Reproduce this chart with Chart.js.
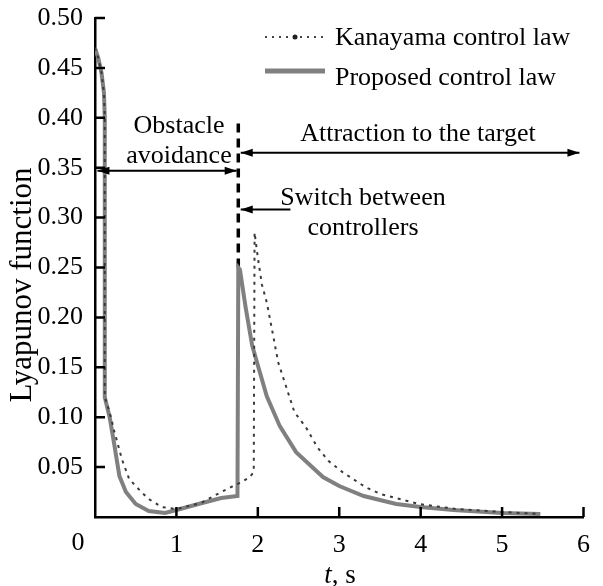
<!DOCTYPE html>
<html>
<head>
<meta charset="utf-8">
<script src="https://cdn.jsdelivr.net/npm/chart.js@4.4.1/dist/chart.umd.min.js"></script>
<style>
  html, body { margin: 0; padding: 0; background: #fff; }
  #wrap { width: 603px; height: 586px; }
</style>
</head>
<body>
<div id="wrap"><canvas id="lyap"></canvas></div>
<script>
// proposed control law (solid grey)
const tProposed = [0, 0.04, 0.08, 0.11, 0.12, 0.12, 0.15, 0.18, 0.24, 0.30, 0.38, 0.50, 0.66, 0.86, 1.0, 1.27, 1.55, 1.75, 1.76, 1.78, 1.85, 1.93, 2.0, 2.11, 2.27, 2.47, 2.8, 3.0, 3.3, 3.7, 4.0, 4.4, 5.0, 5.47];
const vProposed = [0.47, 0.46, 0.445, 0.425, 0.40, 0.12, 0.11, 0.10, 0.071, 0.041, 0.025, 0.013, 0.006, 0.004, 0.007, 0.013, 0.019, 0.021, 0.25, 0.248, 0.21, 0.172, 0.152, 0.121, 0.091, 0.065, 0.040, 0.031, 0.021, 0.013, 0.010, 0.007, 0.004, 0.003];

// Kanayama control law (dotted)
const tKanayama = [0, 0.04, 0.08, 0.11, 0.12, 0.12, 0.18, 0.24, 0.33, 0.42, 0.57, 0.66, 0.82, 1.0, 1.3, 1.55, 1.67, 1.8, 1.9, 1.95, 1.96, 2.0, 2.05, 2.11, 2.19, 2.25, 2.35, 2.45, 2.59, 2.73, 2.87, 3.04, 3.32, 3.51, 3.98, 4.44, 5.0, 5.47];
const vKanayama = [0.47, 0.46, 0.445, 0.425, 0.40, 0.12, 0.105, 0.085, 0.058, 0.038, 0.025, 0.018, 0.010, 0.008, 0.014, 0.025, 0.030, 0.035, 0.040, 0.045, 0.285, 0.26, 0.233, 0.215, 0.181, 0.155, 0.13, 0.105, 0.09, 0.07, 0.056, 0.045, 0.03, 0.023, 0.013, 0.008, 0.005, 0.003];

// switch between controllers (black dashed marker)
const tSwitch = [1.76, 1.76];
const vSwitch = [0.25, 0.395];

const xTicks = [0, 1, 2, 3, 4, 5, 6];
const yTicks = [0.05, 0.10, 0.15, 0.20, 0.25, 0.30, 0.35, 0.40, 0.45, 0.50];

const serif = '"Liberation Serif", "DejaVu Serif", serif';

function pts(ts, vs) {
  return ts.map((t, i) => ({ x: t, y: vs[i] }));
}

// inward ticks, axis titles, arrows, notes and legend
const extras = {
  id: 'extras',
  afterDraw(chart) {
    const ctx = chart.ctx;
    const xs = chart.scales.x, ys = chart.scales.y;
    const X = v => xs.getPixelForValue(v);
    const Y = v => ys.getPixelForValue(v);
    ctx.save();
    ctx.strokeStyle = '#000';
    ctx.lineWidth = 2.5;
    ctx.beginPath();
    yTicks.forEach(v => { ctx.moveTo(X(0), Y(v)); ctx.lineTo(X(0) + 10, Y(v)); });
    xTicks.slice(1).forEach(v => { ctx.moveTo(X(v), Y(0)); ctx.lineTo(X(v), Y(0) - 10); });
    ctx.stroke();

    ctx.fillStyle = '#000';
    ctx.font = '26px ' + serif;
    ctx.textAlign = 'center';
    ctx.textBaseline = 'middle';
    ctx.fillText('0', X(0) - 17, 543);

    // x title
    ctx.textBaseline = 'alphabetic';
    ctx.textAlign = 'left';
    ctx.font = 'italic 27px ' + serif;
    const wT = ctx.measureText('t').width;
    ctx.font = '27px ' + serif;
    const wR = ctx.measureText(', s').width;
    let x0 = 340 - (wT + wR) / 2;
    ctx.font = 'italic 27px ' + serif;
    ctx.fillText('t', x0, 583);
    ctx.font = '27px ' + serif;
    ctx.fillText(', s', x0 + wT, 583);

    // y title
    ctx.save();
    ctx.translate(31, 285);
    ctx.rotate(-Math.PI / 2);
    ctx.textAlign = 'center';
    ctx.font = '31px ' + serif;
    ctx.fillText('Lyapunov function', 0, 0);
    ctx.restore();

    // arrows
    function head(x, y, dir) {
      ctx.beginPath();
      ctx.moveTo(x, y);
      ctx.lineTo(x - dir * 12, y - 4);
      ctx.lineTo(x - dir * 12, y + 4);
      ctx.closePath();
      ctx.fill();
    }
    function arrow(t1, t2, v, both) {
      const a = X(t1), b = X(t2), y = Y(v);
      ctx.lineWidth = 2;
      ctx.beginPath();
      ctx.moveTo(a, y);
      ctx.lineTo(b, y);
      ctx.stroke();
      head(b, y, b > a ? 1 : -1);
      if (both) head(a, y, b > a ? -1 : 1);
    }
    arrow(0.03, 1.74, 0.347, true);
    arrow(1.79, 5.95, 0.365, true);
    arrow(2.4, 1.79, 0.308, false);

    // notes
    ctx.font = '26px ' + serif;
    ctx.textAlign = 'center';
    ctx.fillText('Obstacle', 179, 133);
    ctx.fillText('avoidance', 179, 163);
    ctx.fillText('Attraction to the target', 418, 141);
    ctx.fillText('Switch between', 363, 205);
    ctx.fillText('controllers', 363, 235);

    // legend
    ctx.textAlign = 'left';
    ctx.fillText('Kanayama control law', 335, 45);
    ctx.fillText('Proposed control law', 335, 85);
    ctx.strokeStyle = '#444';
    ctx.lineWidth = 2;
    ctx.setLineDash([2, 5]);
    ctx.beginPath();
    ctx.moveTo(265, 37);
    ctx.lineTo(325, 37);
    ctx.stroke();
    ctx.setLineDash([]);
    ctx.fillStyle = '#222';
    ctx.beginPath();
    ctx.arc(295, 37, 2.5, 0, Math.PI * 2);
    ctx.fill();
    ctx.strokeStyle = '#808080';
    ctx.lineWidth = 5;
    ctx.beginPath();
    ctx.moveTo(265, 71);
    ctx.lineTo(325, 71);
    ctx.stroke();
    ctx.restore();
  }
};

new Chart(
  document.getElementById('lyap'),
  {
    type: 'scatter',
    data: {
      datasets: [
        {
          label: 'Kanayama control law',
          data: pts(tKanayama, vKanayama),
          showLine: true,
          borderColor: '#3a3a3a',
          borderWidth: 2,
          borderDash: [3, 5],
          pointRadius: 0,
          tension: 0
        },
        {
          label: 'Proposed control law',
          data: pts(tProposed, vProposed),
          showLine: true,
          borderColor: '#808080',
          borderWidth: 4,
          pointRadius: 0,
          tension: 0
        },
        {
          label: 'switch',
          data: pts(tSwitch, vSwitch),
          showLine: true,
          borderColor: '#000',
          borderWidth: 3.5,
          borderDash: [9, 6],
          pointRadius: 0
        }
      ]
    },
    options: {
      responsive: true,
      maintainAspectRatio: false,
      animation: false,
      layout: { padding: { top: 18, right: 10, left: 0, bottom: 0 } },
      plugins: { legend: { display: false }, tooltip: { enabled: false } },
      scales: {
        x: {
          type: 'linear',
          min: 0,
          max: 6,
          afterFit: s => { s.height = 69; },
          afterBuildTicks: s => { s.ticks = xTicks.map(v => ({ value: v })); },
          grid: { drawOnChartArea: false, drawTicks: false },
          border: { display: true, color: '#000', width: 2.5 },
          ticks: {
            padding: 13,
            color: '#000',
            font: { family: serif, size: 26 },
            callback: v => v === 0 ? '' : String(v)
          }
        },
        y: {
          min: 0,
          max: 0.5,
          afterFit: s => { s.width = 95; s.paddingTop = 0; s.paddingBottom = 0; },
          afterBuildTicks: s => { s.ticks = yTicks.map(v => ({ value: v })); },
          grid: { drawOnChartArea: false, drawTicks: false },
          border: { display: true, color: '#000', width: 2.5 },
          ticks: {
            padding: 12,
            color: '#000',
            font: { family: serif, size: 26 },
            callback: v => v.toFixed(2)
          }
        }
      }
    },
    plugins: [extras]
  }
);
</script>
</body>
</html>
